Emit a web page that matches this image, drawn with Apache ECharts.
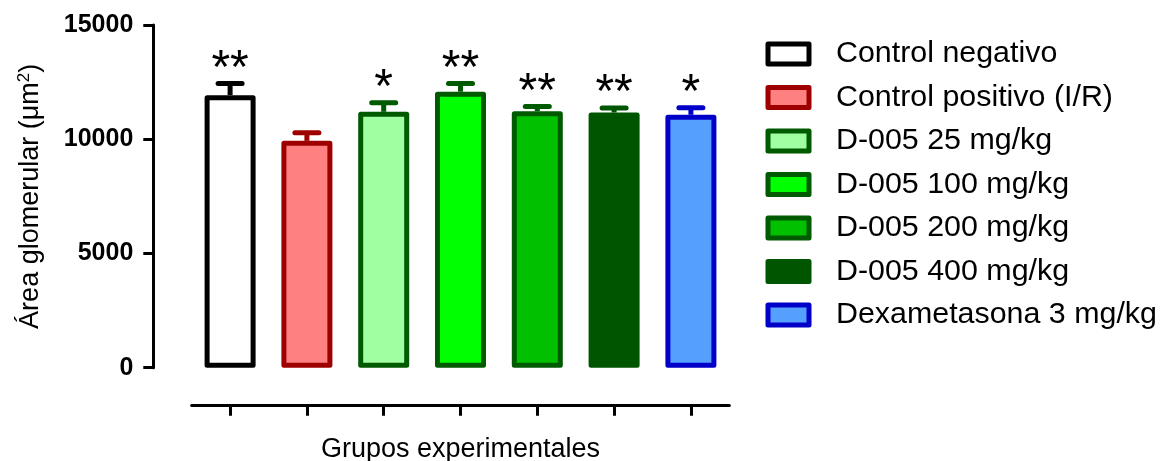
<!DOCTYPE html>
<html>
<head>
<meta charset="utf-8">
<script src="https://cdn.jsdelivr.net/npm/echarts@6/dist/echarts.min.js"></script>
<style>
  html, body { margin: 0; padding: 0; background: #fff; }
  #chart { width: 1168px; height: 461px; }
</style>
</head>
<body>
<div id="chart"></div>
<script>
// ---- data ----
const categories = ['Control negativo', 'Control positivo (I/R)', 'D-005 25 mg/kg', 'D-005 100 mg/kg', 'D-005 200 mg/kg', 'D-005 400 mg/kg', 'Dexametasona 3 mg/kg'];
const means = [11930, 9930, 11200, 12080, 11230, 11170, 11070];
const sems = [510, 350, 395, 355, 200, 200, 305];
const stars = ['**', '', '*', '**', '**', '**', '*'];
const yTicks = [0, 5000, 10000, 15000];

// ---- styles ----
const fillColors = ['#ffffff', '#ff8080', '#a0ffa0', '#00ff00', '#00c000', '#005500', '#55a0ff'];
const borderColors = ['#000000', '#9e0000', '#005a00', '#005a00', '#005a00', '#005500', '#0000c8'];
const FONT = "'Liberation Sans', Arial, Helvetica, sans-serif";

const chart = echarts.init(document.getElementById('chart'), null, { renderer: 'canvas' });

const barSeries = categories.map((name, i) => ({
  type: 'bar',
  name: name,
  data: categories.map((_, j) => (j === i ? means[i] : '-')),
  barWidth: 51,
  barGap: '-100%',
  itemStyle: { color: fillColors[i], borderColor: borderColors[i], borderWidth: 5, borderJoin: 'round' },
  emphasis: { disabled: true },
  z: 2
}));

const errSeries = {
  type: 'custom',
  name: 'err',
  data: means.map((m, i) => [i, m, sems[i]]),
  encode: { x: 0, y: 1 },
  z: 5,
  renderItem: function (params, api) {
    const i = api.value(0);
    const m = api.value(1);
    const s = api.value(2);
    const p0 = api.coord([i, m]);
    const p1 = api.coord([i, m + s]);
    const c = borderColors[i];
    return {
      type: 'group',
      children: [
        { type: 'line', shape: { x1: p0[0], y1: p0[1], x2: p1[0], y2: p1[1] }, style: { stroke: c, lineWidth: 5 } },
        { type: 'line', shape: { x1: p1[0] - 12, y1: p1[1], x2: p1[0] + 12, y2: p1[1] }, style: { stroke: c, lineWidth: 5, lineCap: 'round' } },
        { type: 'text', x: p1[0], y: p1[1] - 14, style: { text: stars[i], fill: '#000', font: '48px ' + FONT, align: 'center', verticalAlign: 'middle' } }
      ]
    };
  }
};

const option = {
  animation: false,
  backgroundColor: '#ffffff',
  textStyle: { fontFamily: FONT },
  grid: { left: 191.7, right: 1168 - 729.3, top: 25, bottom: 461 - 367.7, containLabel: false, outerBoundsMode: 'none' },
  legend: {
    orient: 'vertical',
    left: 760.5,
    top: 34,
    itemWidth: 41,
    itemHeight: 20,
    itemGap: 13.5,
    icon: 'rect',
    selectedMode: false,
    data: categories,
    itemStyle: { borderWidth: 5 },
    textStyle: { fontSize: 30.4, color: '#000', fontFamily: FONT, padding: [0, 0, 0, 22], lineHeight: 30 }
  },
  xAxis: {
    type: 'category',
    data: categories,
    offset: 38,
    boundaryGap: true,
    name: 'Grupos experimentales',
    nameLocation: 'middle',
    nameGap: 30,
    nameTextStyle: { fontSize: 27, color: '#000', fontFamily: FONT },
    axisLine: { show: true, onZero: false, lineStyle: { color: '#000', width: 3 } },
    axisTick: { show: true, interval: 0, alignWithLabel: true, length: 10, lineStyle: { color: '#000', width: 3 } },
    axisLabel: { show: false, interval: 0 },
    splitLine: { show: false }
  },
  yAxis: {
    type: 'value',
    min: yTicks[0],
    max: yTicks[yTicks.length - 1],
    interval: yTicks[1] - yTicks[0],
    offset: 38.4,
    name: 'Área glomerular (μm{sup|2})',
    nameLocation: 'middle',
    nameGap: 108,
    nameTextStyle: {
      fontSize: 27, color: '#000', fontFamily: FONT,
      rich: { sup: { fontSize: 17, color: '#000', fontFamily: FONT, verticalAlign: 'top', padding: [0, 0, 12, 0] } }
    },
    axisLine: { show: true, lineStyle: { color: '#000', width: 3 } },
    axisTick: { show: true, length: 10, lineStyle: { color: '#000', width: 3 } },
    axisLabel: { show: true, margin: 20, fontSize: 25, fontWeight: 'bold', color: '#000', fontFamily: FONT, formatter: function (v) { return String(v); } },
    splitLine: { show: false }
  },
  series: barSeries.concat([errSeries])
};

chart.setOption(option);
</script>
</body>
</html>
